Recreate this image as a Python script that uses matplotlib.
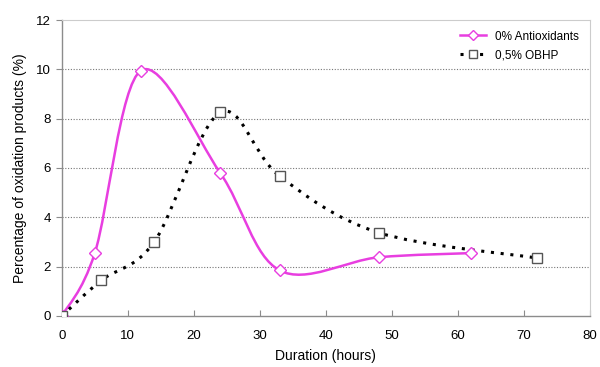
import numpy as np
import matplotlib
matplotlib.use("Agg")
import matplotlib.pyplot as plt
from matplotlib.path import Path
from matplotlib.patches import PathPatch
from matplotlib.lines import Line2D

# data
hours_anti = [0, 5, 12, 24, 33, 48, 62]
pct_anti = [0, 2.55, 9.95, 5.8, 1.85, 2.38, 2.55]
hours_obhp = [0, 6, 14, 24, 33, 48, 72]
pct_obhp = [0, 1.45, 3.0, 8.25, 5.67, 3.38, 2.35]

plt.rcParams['font.family'] = ['Liberation Sans', 'DejaVu Sans']


def smooth_path(ax, xs, ys):
    """Excel-like smoothed line: cubic Bezier through points, built in display space."""
    pts = ax.transData.transform(np.column_stack([xs, ys]))
    n = len(pts)
    verts = [pts[0]]
    codes = [Path.MOVETO]
    for i in range(n - 1):
        p_prev = pts[max(i - 1, 0)]
        p0 = pts[i]
        p1 = pts[i + 1]
        p_next = pts[min(i + 2, n - 1)]
        c1 = p0 + (p1 - p_prev) / 6.0
        c2 = p1 - (p_next - p0) / 6.0
        verts += [c1, c2, p1]
        codes += [Path.CURVE4] * 3
    verts = ax.transData.inverted().transform(np.array(verts))
    return Path(verts, codes)


fig = plt.figure(figsize=(6, 3.67), dpi=100)
ax = fig.add_axes([0.103, 0.139, 0.88, 0.8065])
ax.set_xlim(0, 80)
ax.set_ylim(0, 12)

pink = '#e83ee0'

# smoothed lines
ax.add_patch(PathPatch(smooth_path(ax, hours_anti, pct_anti), fill=False,
                       edgecolor=pink, lw=1.8, zorder=3))
ax.add_patch(PathPatch(smooth_path(ax, hours_obhp, pct_obhp), fill=False,
                       edgecolor='black', lw=2.2, linestyle=(0, (1, 2.2)), zorder=3))

# markers
ax.plot(hours_anti, pct_anti, linestyle='none', marker='D', ms=6.5,
        mfc='white', mec=pink, mew=1.0, zorder=4)
ax.plot(hours_obhp, pct_obhp, linestyle='none', marker='s', ms=7,
        mfc='white', mec='#555555', mew=1.0, zorder=4)

# grid and frame
ax.set_yticks(range(0, 13, 2))
ax.set_xticks(range(0, 81, 10))
for yv in range(2, 12, 2):
    ax.axhline(yv, color='#777777', lw=0.8, linestyle=(0, (1, 1.5)), zorder=1)
for side in ['top', 'right']:
    ax.spines[side].set_color('#cccccc')
    ax.spines[side].set_linewidth(0.8)
for side in ['left', 'bottom']:
    ax.spines[side].set_color('#8c8c8c')
    ax.spines[side].set_linewidth(1.0)
ax.tick_params(axis='x', direction='in', length=4, color='#8c8c8c', labelsize=9.5, pad=10)
ax.tick_params(axis='y', direction='out', length=4, color='#8c8c8c', labelsize=9.5, pad=4)

ax.set_xlabel('Duration (hours)', fontsize=10, labelpad=5)
ax.set_ylabel('Percentage of oxidation products (%)', fontsize=10, labelpad=6)

handles = [
    Line2D([], [], color=pink, lw=1.8, marker='D', ms=5.5, mfc='white', mec=pink),
    Line2D([], [], color='black', lw=2.2, linestyle=(0, (1, 2.2)), marker='s', ms=6,
           mfc='white', mec='#555555'),
]
ax.legend(handles, ['0% Antioxidants', '0,5% OBHP'], loc='upper right',
          bbox_to_anchor=(1.0, 1.0), frameon=False, fontsize=8.5,
          handlelength=2.2, labelspacing=0.55, borderaxespad=0.5)

fig.savefig('out.png', dpi=100, facecolor='white')
